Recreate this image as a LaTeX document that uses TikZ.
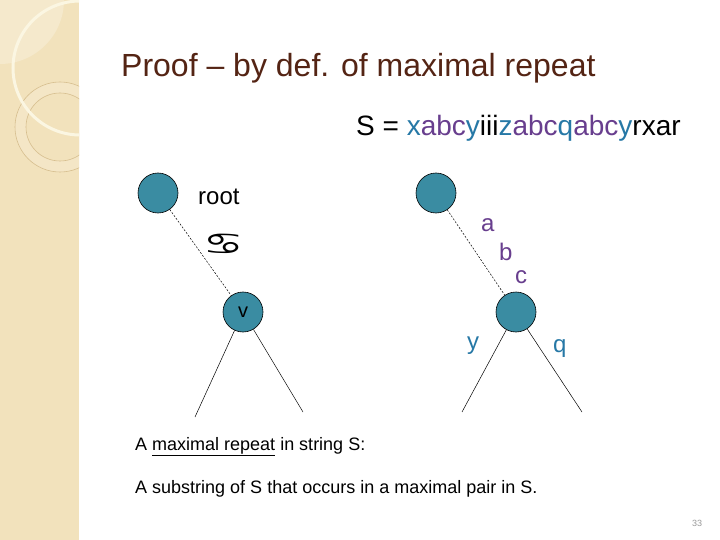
\documentclass[tikz,border=0pt]{standalone}
\usepackage{fontspec}
\setmainfont{Liberation Sans}
\newfontfamily\symfont{DejaVu Sans}
\definecolor{band}{RGB}{242,226,188}
\definecolor{bandlight}{RGB}{245,233,204}
\definecolor{creamarc}{RGB}{251,246,226}
\definecolor{tanline}{RGB}{214,190,142}
\definecolor{titlebrown}{RGB}{84,36,20}
\definecolor{strblue}{RGB}{38,120,166}
\definecolor{strpurple}{RGB}{104,62,142}
\definecolor{nodeteal}{RGB}{58,140,162}
\begin{document}
\begin{tikzpicture}[x=1pt,y=-1pt,
  treenode/.style={circle,draw=black,line width=0.6pt,fill=nodeteal,minimum size=40pt,inner sep=0pt,font=\fontsize{20}{22}\selectfont},
  txt/.style={anchor=base west,inner sep=0pt},
  dashedge/.style={draw=black,dashed,dash pattern=on 2pt off 1.5pt,line width=0.5pt},
  solidedge/.style={draw=black,line width=0.5pt}]
\useasboundingbox (0,0) rectangle (720,540);
% left decorative band
\fill[white] (0,0) rectangle (720,540);
\begin{scope}
\clip (0,0) rectangle (79,540);
\fill[band] (0,0) rectangle (79,540);
\fill[bandlight] (0,0) circle (64);
\draw[tanline,line width=0.6pt,fill=bandlight!60!band] (60,127) circle (45);
\draw[tanline,line width=0.6pt,fill=band] (60,127) circle (34);
\draw[creamarc,line width=3pt] (80,68) circle (67);
\end{scope}
% title
\node[txt,text=titlebrown,font=\fontsize{32}{36}\selectfont] (title) at (121,77) {Proof – by def. of maximal repeat};
% string
\node[txt,font=\fontsize{28}{32}\selectfont] (str) at (356,136) {S = \textcolor{strblue}{x}\textcolor{strpurple}{abc}\textcolor{strblue}{y}iii\textcolor{strblue}{z}\textcolor{strpurple}{abc}\textcolor{strblue}{q}\textcolor{strpurple}{abc}\textcolor{strblue}{y}rxar};
% left tree
\node[treenode] (root) at (158,193) {};
\node[treenode] (v) at (243,312) {v};
\draw[dashedge] (root) -- (v);
\node[txt,font=\fontsize{24}{28}\selectfont] (rootlbl) at (198,205) {root};
\node[inner sep=0pt,xscale=1.5,font=\symfont\fontsize{30}{32}\selectfont] (cancer) at (223.5,244) {♋};
\coordinate (vl) at (195,417);
\coordinate (vr) at (303,412);
\draw[solidedge] (v) -- (vl);
\draw[solidedge] (v) -- (vr);
% right tree
\node[treenode] (r2) at (436,193) {};
\node[treenode] (w) at (516,312) {};
\draw[dashedge] (r2) -- (w);
\node[txt,text=strpurple,font=\fontsize{24}{28}\selectfont] (la) at (481,232) {a};
\node[txt,text=strpurple,font=\fontsize{24}{28}\selectfont] (lb) at (499,260) {b};
\node[txt,text=strpurple,font=\fontsize{24}{28}\selectfont] (lc) at (515,283) {c};
\coordinate (wl) at (462,412);
\coordinate (wr) at (582,412);
\draw[solidedge] (w) -- (wl);
\draw[solidedge] (w) -- (wr);
\node[txt,text=strblue,font=\fontsize{24}{28}\selectfont] (ly) at (467,349) {y};
\node[txt,text=strblue,font=\fontsize{24}{28}\selectfont] (lq) at (553,352) {q};
% bottom text
\node[txt,font=\fontsize{18}{22}\selectfont] (def1) at (135,450) {A \underline{maximal repeat} in string S:};
\node[txt,font=\fontsize{18}{22}\selectfont] (def2) at (135,493) {A substring of S that occurs in a maximal pair in S.};
% page number
\node[inner sep=0pt,text=black!40,font=\fontsize{9}{10}\selectfont] (pg) at (697,523) {33};
\end{tikzpicture}
\end{document}
